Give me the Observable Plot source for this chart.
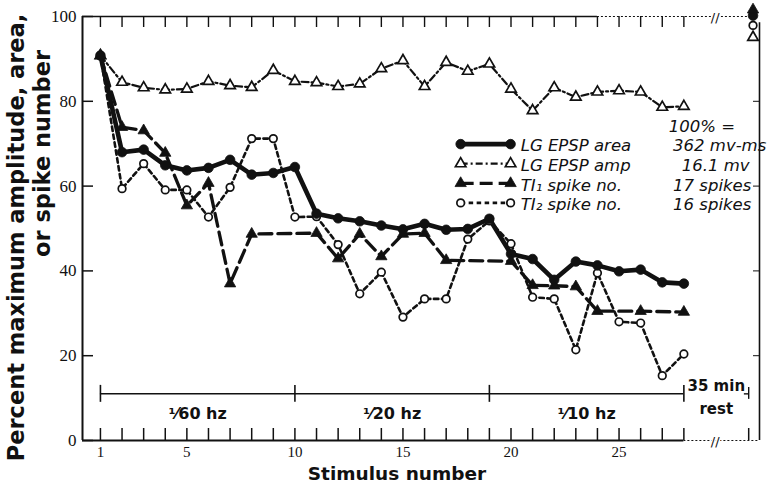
<!DOCTYPE html>
<html>
<head>
<meta charset="utf-8">
<script src="https://cdn.jsdelivr.net/npm/d3@7"></script>
<script src="https://cdn.jsdelivr.net/npm/@observablehq/plot@0.6"></script>
<style>
  html, body { margin: 0; padding: 0; background: #fff; }
</style>
</head>
<body>
<div id="chart"></div>
<script>
// Stimulus numbers 1..28 of the train, plus the test after the rest period
const stimulus = d3.range(1, 29);

// LG EPSP area (% of maximum), one value per stimulus
const epspArea = [90.8, 68, 68.6, 64.9, 63.7, 64.3, 66.2, 62.7, 63.1, 64.5,
                  53.5, 52.4, 51.7, 50.7, 49.8, 51.1, 49.7, 49.9, 52.3, 44,
                  42.8, 37.9, 42.2, 41.3, 39.9, 40.3, 37.3, 37];

// LG EPSP amplitude (% of maximum)
const epspAmp = [90.8, 84.5, 83.2, 82.7, 82.9, 84.7, 83.7, 83.3, 87.3, 84.7,
                 84.4, 83.5, 84.1, 87.7, 89.6, 83.5, 89.2, 87.1, 88.8, 82.9,
                 77.8, 83.2, 81, 82.2, 82.5, 82.2, 78.6, 78.8];

// TI1 spike number (% of maximum); only the stimuli where it was plotted
const ti1Stimulus = [1, 2, 3, 4, 5, 6, 7, 8, 11, 12, 13, 14, 15, 16, 17, 20, 21, 22, 23, 24, 26, 28];
const ti1Spikes = [90.8, 73.9, 73.1, 67.8, 55.4, 60.7, 37, 48.7, 48.9, 42.9, 48.7,
                   43.4, 48.7, 48.9, 42.5, 42.3, 36.6, 36.5, 36.3, 30.5, 30.5, 30.3];

// TI2 spike number (% of maximum)
const ti2Spikes = [90.8, 59.4, 65.3, 59.1, 59.1, 52.7, 59.7, 71.2, 71.2, 52.7,
                   52.8, 46.2, 34.6, 39.7, 29.1, 33.4, 33.4, 47.5, 51.8, 46.4,
                   33.8, 33.4, 21.4, 39.5, 28, 27.7, 15.3, 20.4];

// Values after the 35 min rest (area, amp, TI1, TI2)
const restStimulus = 31.2;
const restValues = [100.2, 95.1, 101.6, 97.9];

// Legend text and the value each series is normalised to
const seriesNames = ["LG EPSP area", "LG EPSP amp", "TI\u2081 spike no.", "TI\u2082 spike no."];
const fullScale = ["362 mv-ms", "16.1 mv", "17 spikes", "16 spikes"];

// Stimulation periods
const periodBounds = [1, 10, 19, 28];
const periodLabels = ["\u00B9\u204460 hz", "\u00B9\u204420 hz", "\u00B9\u204410 hz"];

// Axis ticks
const yTicks = [0, 20, 40, 60, 80, 100];
const xTickLabels = [1, 5, 10, 15, 20, 25];

// ---- layout ----
const W = 780, H = 485;
const mL = 82, mR = 21, mT = 16, mB = 45;
const fw = W - mL - mR, fh = H - mT - mB;
const xLo = 0.17, xHi = 31.5, breakX = 29.45, restEnd = 31;
const ink = "#111";
const sans = "'DejaVu Sans', sans-serif";
const serif = "'Liberation Serif', serif";

const series = [
  {name: seriesNames[0], scale: fullScale[0], data: stimulus.map((s, i) => ({s, v: epspArea[i]})),
   width: 4.6, dash: null, symbol: "circle", r: 4.8, filled: true, rest: restValues[0]},
  {name: seriesNames[1], scale: fullScale[1], data: stimulus.map((s, i) => ({s, v: epspAmp[i]})),
   width: 2.2, dash: "7,3,2,3", symbol: "triangle", r: 3.9, filled: false, rest: restValues[1]},
  {name: seriesNames[2], scale: fullScale[2], data: ti1Stimulus.map((s, i) => ({s, v: ti1Spikes[i]})),
   width: 3.3, dash: "13,6", symbol: "triangle", r: 4.2, filled: true, rest: restValues[2]},
  {name: seriesNames[3], scale: fullScale[3], data: stimulus.map((s, i) => ({s, v: ti2Spikes[i]})),
   width: 2.6, dash: "4.5,3.5", symbol: "circle", r: 3.8, filled: false, rest: restValues[3]}
];

// legend placement in data units
const legX1 = 17.67, legX2 = 19.98, legTextX = 20.45, legValX = 27.5;
const legTop = 69.9, legStep = 4.62;
series.forEach((d, i) => { d.legY = legTop - i * legStep; });

const dotStyle = (d) => d.filled
  ? {symbol: d.symbol, r: d.r, fill: ink, stroke: ink, strokeWidth: 0.8}
  : {symbol: d.symbol, r: d.r, fill: "white", stroke: ink, strokeWidth: 1.7};

const lineMarks = series.map(d => Plot.line(d.data, {
  x: "s", y: "v", stroke: ink, strokeWidth: d.width,
  strokeDasharray: d.dash, strokeLinejoin: "round"
}));
const openDots = series.filter(d => !d.filled).map(d => Plot.dot(d.data, {x: "s", y: "v", ...dotStyle(d)}));
const filledDots = series.filter(d => d.filled).map(d => Plot.dot(d.data, {x: "s", y: "v", ...dotStyle(d)}));
const restDots = series.map(d => Plot.dot([d], {x: () => restStimulus, y: "rest", ...dotStyle(d)}));

const legendMarks = series.flatMap(d => [
  Plot.link([d], {x1: () => legX1, x2: () => legX2, y1: "legY", y2: "legY",
    stroke: ink, strokeWidth: d.width, strokeDasharray: d.dash}),
  Plot.dot([legX1, legX2], {x: v => v, y: () => d.legY, ...dotStyle(d)}),
  Plot.text([d], {x: () => legTextX, y: "legY", text: "name", textAnchor: "start",
    fontSize: 16.5, fontStyle: "italic", fontFamily: sans, fill: ink, dy: 2}),
  Plot.text([d], {x: () => legValX + (d.scale.length < 9 ? 0.4 : 0), y: "legY", text: "scale", textAnchor: "start",
    fontSize: 16.5, fontStyle: "italic", fontFamily: sans, fill: ink, dy: 2})
]);

const periods = periodLabels.map((label, i) => ({label, a: periodBounds[i], b: periodBounds[i + 1]}));
const bracketY = 11;

const plot = Plot.plot({
  width: W, height: H,
  marginLeft: mL, marginRight: mR, marginTop: mT, marginBottom: mB,
  x: {domain: [xLo, xHi], axis: null},
  y: {domain: [0, 100], axis: null},
  style: {background: "white", color: ink, overflow: "visible", fontFamily: sans},
  marks: [
    // frame: left axis, bottom and top edges, right edge
    Plot.ruleX([xLo], {y1: 0, y2: 100, stroke: ink, strokeWidth: 2}),
    Plot.ruleY([0], {x1: xLo, x2: 28, stroke: ink, strokeWidth: 2}),
    Plot.ruleY([0], {x1: 28, x2: xHi, stroke: ink, strokeWidth: 1.2, strokeDasharray: "2,2"}),
    Plot.ruleY([100], {x1: xLo, x2: 24, stroke: ink, strokeWidth: 1.4}),
    Plot.ruleY([100], {x1: 24, x2: xHi - 0.3, stroke: ink, strokeWidth: 1, strokeDasharray: "2,2"}),
    Plot.ruleX([xHi], {y1: 0, y2: 98.5, stroke: ink, strokeWidth: 1.6}),
    // axis breaks before the rest value
    Plot.text([0, 100], {x: () => breakX, y: v => v, text: () => "//", fontSize: 13,
      fontFamily: sans, fill: ink, stroke: "white", strokeWidth: 3, dy: 1}),

    // ticks: all four sides point inward
    Plot.tickX([...stimulus, restEnd], {x: v => v, insetTop: fh - 12, stroke: ink, strokeWidth: 1.5}),
    Plot.tickX(stimulus, {x: v => v, insetBottom: fh - 11, stroke: ink, strokeWidth: 1.4}),
    Plot.tickY(yTicks, {y: v => v, insetRight: fw - 11, stroke: ink, strokeWidth: 1.5}),
    Plot.tickY(yTicks.slice(1, -1), {y: v => v, insetLeft: fw - 6, stroke: ink, strokeWidth: 1}),

    // tick labels
    Plot.text(yTicks, {x: () => xLo, y: v => v, text: v => String(v), dx: -6, textAnchor: "end",
      fontSize: 17, fontFamily: serif, fill: ink}),
    Plot.text(xTickLabels, {x: v => v, y: () => 0, text: v => String(v), dy: 12,
      fontSize: 15, fontFamily: serif, fill: ink}),

    // stimulation period brackets
    Plot.ruleY([bracketY], {x1: periodBounds[0], x2: periodBounds[periodBounds.length - 1], stroke: ink, strokeWidth: 1.5}),
    Plot.ruleX(periodBounds, {y1: bracketY - 2, y2: bracketY + 2, stroke: ink, strokeWidth: 1.6}),
    Plot.ruleX([restEnd], {y1: bracketY - 1.3, y2: bracketY + 1.5, stroke: ink, strokeWidth: 1.4}),
    Plot.ruleY([bracketY], {x1: restEnd - 0.2, x2: restEnd, stroke: ink, strokeWidth: 1.4}),
    Plot.text(periods, {x: d => (d.a + d.b) / 2, y: () => bracketY, text: "label", dy: 20,
      fontSize: 16, fontWeight: "bold", fontFamily: sans, fill: ink}),
    Plot.text(["35 min"], {x: () => (28 + restEnd) / 2, y: () => bracketY, dy: -8,
      fontSize: 15, fontWeight: "bold", fontFamily: sans, fill: ink}),
    Plot.text(["rest"], {x: () => (28 + restEnd) / 2, y: () => bracketY, dy: 15,
      fontSize: 15, fontWeight: "bold", fontFamily: sans, fill: ink}),

    // data
    ...lineMarks,
    ...openDots,
    ...filledDots,
    ...restDots,

    // legend
    Plot.text(["100% ="], {x: () => 27.3, y: () => legTop + 4.2, textAnchor: "start",
      fontSize: 16.5, fontStyle: "italic", fontFamily: sans, fill: ink}),
    ...legendMarks,

    // axis titles
    Plot.text(["Percent maximum amplitude, area,"], {frameAnchor: "left", textAnchor: "middle", lineAnchor: "middle",
      dx: -66, dy: 9, rotate: -90, fontSize: 22.5, fontWeight: "bold", fontFamily: sans, fill: ink}),
    Plot.text(["or spike number"], {frameAnchor: "left", textAnchor: "middle", lineAnchor: "middle",
      dx: -40, dy: -75, rotate: -90, fontSize: 22.5, fontWeight: "bold", fontFamily: sans, fill: ink}),
    Plot.text(["Stimulus number"], {frameAnchor: "bottom", textAnchor: "middle", lineAnchor: "middle",
      dx: -24, dy: 34, fontSize: 18.5, fontWeight: "bold", fontFamily: sans, fill: ink})
  ]
});

document.getElementById("chart").append(plot);
</script>
</body>
</html>
